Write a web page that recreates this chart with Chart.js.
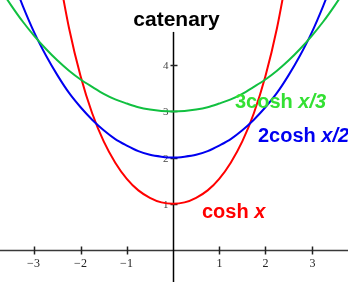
<!DOCTYPE html>
<html>
<head>
<meta charset="utf-8">
<title>catenary</title>
<script src="https://cdn.jsdelivr.net/npm/chart.js@4.4.1/dist/chart.umd.min.js"></script>
<style>
  body { margin: 0; background: #fff; }
  #wrap { width: 348px; height: 282px; position: relative; }
</style>
</head>
<body>
<div id="wrap"><canvas id="myChart"></canvas></div>
<script>
// DATA
const chartTitle = 'catenary';

const xRed = [-2.5, -2.25, -2, -1.75, -1.5, -1.25, -1, -0.75, -0.5, -0.25, 0,
              0.25, 0.5, 0.75, 1, 1.25, 1.5, 1.75, 2, 2.25, 2.5];
const yRed = [6.13, 4.80, 3.76, 2.96, 2.35, 1.89, 1.54, 1.29, 1.13, 1.03, 1,
              1.03, 1.13, 1.29, 1.54, 1.89, 2.35, 2.96, 3.76, 4.80, 6.13];

const xBlue = [-3.5, -3.25, -3, -2.75, -2.5, -2.25, -2, -1.75, -1.5, -1.25, -1, -0.75, -0.5, -0.25, 0,
               0.25, 0.5, 0.75, 1, 1.25, 1.5, 1.75, 2, 2.25, 2.5, 2.75, 3, 3.25, 3.5];
const yBlue = [5.93, 5.28, 4.70, 4.21, 3.78, 3.40, 3.09, 2.82, 2.59, 2.40, 2.26, 2.14, 2.06, 2.02, 2,
               2.02, 2.06, 2.14, 2.26, 2.40, 2.59, 2.82, 3.09, 3.40, 3.78, 4.21, 4.70, 5.28, 5.93];

const xGreen = [-4, -3.75, -3.5, -3.25, -3, -2.75, -2.5, -2.25, -2, -1.75, -1.5, -1.25, -1, -0.75, -0.5, -0.25, 0,
                0.25, 0.5, 0.75, 1, 1.25, 1.5, 1.75, 2, 2.25, 2.5, 2.75, 3, 3.25, 3.5, 3.75, 4];
const yGreen = [6.08, 5.67, 5.29, 4.94, 4.63, 4.35, 4.10, 3.88, 3.69, 3.53, 3.38, 3.26, 3.17, 3.09, 3.04, 3.01, 3,
                3.01, 3.04, 3.09, 3.17, 3.26, 3.38, 3.53, 3.69, 3.88, 4.10, 4.35, 4.63, 4.94, 5.29, 5.67, 6.08];

const xTicks = [-3, -2, -1, 1, 2, 3];
const yTicks = [1, 2, 3, 4];

// curve labels: [plain part, italic part]
const redLabel = ['cosh ', 'x'];
const blueLabel = ['2cosh ', 'x/2'];
const greenLabel = ['3cosh ', 'x/3'];

// LAYOUT
const xMin = -3.745, xMax = 3.788;
const yMin = -0.693, yMax = 5.411;
const yAxisTop = 4.72;
const RED = '#ff0000', BLUE = '#0000f0', GREEN = '#11c040', GREEN_TEXT = '#33e033';

function toPoints(xs, ys) {
  return xs.map((x, i) => ({ x: x, y: ys[i] }));
}

const axesPlugin = {
  id: 'axesThroughOrigin',
  beforeDatasetsDraw(chart) {
    const ctx = chart.ctx;
    const xs = chart.scales.x, ys = chart.scales.y;
    const area = chart.chartArea;
    const ox = Math.round(xs.getPixelForValue(0)) + 0.5;
    const oy = Math.round(ys.getPixelForValue(0)) + 0.5;
    ctx.save();
    ctx.lineWidth = 1.5;
    // x axis
    ctx.strokeStyle = '#383838';
    ctx.beginPath();
    ctx.moveTo(area.left, oy);
    ctx.lineTo(area.right, oy);
    ctx.stroke();
    // y axis
    ctx.strokeStyle = '#000';
    ctx.beginPath();
    ctx.moveTo(ox, ys.getPixelForValue(yAxisTop));
    ctx.lineTo(ox, area.bottom);
    ctx.stroke();
    // tick marks + labels
    ctx.font = '12px "Liberation Serif", "Times New Roman", serif';
    ctx.fillStyle = '#222';
    ctx.strokeStyle = '#222';
    ctx.lineWidth = 1.5;
    ctx.textAlign = 'center';
    ctx.textBaseline = 'alphabetic';
    xTicks.forEach(v => {
      const px = Math.round(xs.getPixelForValue(v)) + 0.5;
      ctx.beginPath();
      ctx.moveTo(px, oy - 4);
      ctx.lineTo(px, oy + 4);
      ctx.stroke();
      ctx.fillText(String(v).replace('-', '\u2212'), px - (v < 0 ? 1 : 0), oy + 16);
    });
    ctx.font = '11px "Liberation Serif", "Times New Roman", serif';
    ctx.fillStyle = '#444';
    ctx.textAlign = 'right';
    ctx.textBaseline = 'middle';
    yTicks.forEach(v => {
      const py = Math.round(ys.getPixelForValue(v)) + 0.5;
      ctx.beginPath();
      ctx.moveTo(ox - 3, py);
      ctx.lineTo(ox + 4, py);
      ctx.stroke();
      ctx.fillText(String(v), ox - 5, py + 1);
    });
    ctx.restore();
  },
  afterDatasetsDraw(chart) {
    const ctx = chart.ctx;
    ctx.save();
    // title
    ctx.fillStyle = '#000';
    ctx.font = 'bold 21px "Liberation Sans", Arial, sans-serif';
    ctx.textAlign = 'center';
    ctx.textBaseline = 'alphabetic';
    ctx.fillText(chartTitle, 176.5, 26);
    // curve labels
    ctx.textAlign = 'left';
    const put = (parts, color, x, y) => {
      ctx.fillStyle = color;
      ctx.font = 'bold 20px "Liberation Sans", Arial, sans-serif';
      ctx.fillText(parts[0], x, y);
      const w = ctx.measureText(parts[0]).width;
      ctx.font = 'italic bold 20px "Liberation Sans", Arial, sans-serif';
      ctx.fillText(parts[1], x + w, y);
    };
    put(redLabel, RED, 202, 218);
    put(blueLabel, BLUE, 258, 142);
    put(greenLabel, GREEN_TEXT, 235, 108);
    ctx.restore();
  }
};

const lineStyle = {
  pointRadius: 0,
  borderWidth: 2,
  fill: false,
  cubicInterpolationMode: 'monotone'
};

const config = {
  type: 'line',
  data: {
    datasets: [
      Object.assign({ label: '3cosh x/3', data: toPoints(xGreen, yGreen), borderColor: GREEN }, lineStyle),
      Object.assign({ label: '2cosh x/2', data: toPoints(xBlue, yBlue), borderColor: BLUE }, lineStyle),
      Object.assign({ label: 'cosh x', data: toPoints(xRed, yRed), borderColor: RED }, lineStyle)
    ]
  },
  options: {
    responsive: true,
    maintainAspectRatio: false,
    animation: false,
    layout: { padding: 0 },
    plugins: {
      legend: { display: false },
      title: { display: false },
      tooltip: { enabled: false }
    },
    scales: {
      x: { type: 'linear', min: xMin, max: xMax, display: false },
      y: { type: 'linear', min: yMin, max: yMax, display: false }
    }
  },
  plugins: [axesPlugin]
};

const myChart = new Chart(document.getElementById('myChart'), config);
</script>
</body>
</html>
